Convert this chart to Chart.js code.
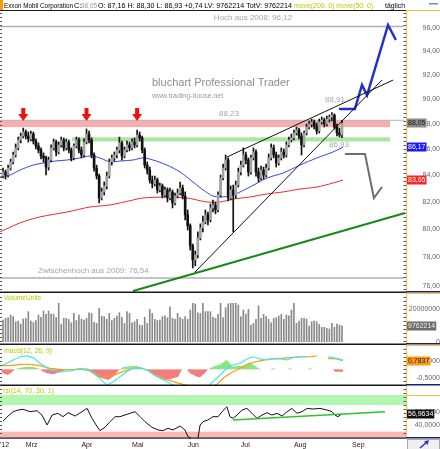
<!DOCTYPE html>
<html>
<head>
<meta charset="utf-8">
<script src="https://cdn.jsdelivr.net/npm/chart.js@4.4.1/dist/chart.umd.min.js"></script>
<style>
  body { margin: 0; background: #fff; }
  #wrap { position: relative; width: 440px; height: 449px; overflow: hidden; background: #fff; }
  canvas { position: absolute; left: 0; }
</style>
</head>
<body>
<div id="wrap">
  <canvas id="price" width="440" height="281" style="top:11px"></canvas>
  <canvas id="vol" width="440" height="51" style="top:293px"></canvas>
  <canvas id="macd" width="440" height="40" style="top:345px"></canvas>
  <canvas id="rsi" width="440" height="63" style="top:386px"></canvas>
  <canvas id="over" width="440" height="449" style="top:0;pointer-events:none"></canvas>
</div>
<script>
// Exxon Mobil, daily candles, Feb 16 2012 .. Aug 28 2012 (x = trading day index)
const opens = [83.95,84.26,84.03,84.56,85.03,85.57,86.12,86.74,87.05,87.37,
  87.05,86.82,87.21,86.66,86.27,85.96,85.49,85.34,84.64,85.18,
  86.12,86.58,85.80,86.35,86.74,86.12,86.58,85.96,85.34,86.27,
  86.74,85.96,85.57,86.58,87.21,86.74,85.57,84.56,83.95,82.30,
  82.75,83.20,83.95,85.03,85.34,85.57,85.96,86.51,85.49,85.96,
  86.35,86.12,86.58,86.35,87.13,86.90,85.96,84.79,84.41,83.65,
  83.35,83.65,82.90,83.20,82.52,82.90,82.30,82.75,81.93,82.45,
  82.67,83.05,82.45,81.05,80.25,78.80,77.81,78.16,79.37,80.10,
  80.53,81.05,80.68,81.56,81.78,81.41,82.52,83.80,84.56,85.18,
  82.30,82.90,82.52,83.27,84.26,84.79,85.57,85.18,84.26,85.34,
  85.80,84.26,83.80,84.41,84.03,84.56,85.34,86.12,85.57,84.95,
  85.34,85.80,85.57,86.35,86.74,86.90,87.29,87.53,87.05,86.35,
  87.29,87.76,88.00,88.16,87.84,87.45,88.16,88.32,88.00,88.40,
  88.56,88.72,87.76,87.29,87.16];
const highs = [84.56,84.41,84.79,85.26,85.80,86.43,86.97,87.29,87.68,87.53,
  87.37,87.45,87.37,86.82,86.51,86.12,85.73,85.49,85.41,86.35,
  86.82,86.74,86.58,86.97,86.90,86.82,86.74,86.12,86.43,86.97,
  86.90,86.19,86.82,87.61,87.45,86.90,85.73,84.79,84.10,83.05,
  83.50,84.26,85.26,85.57,85.80,86.19,86.97,86.66,86.19,86.66,
  86.58,86.82,86.90,87.53,87.37,87.05,86.12,85.03,84.64,83.95,
  83.95,83.80,83.42,83.35,83.12,83.05,83.05,82.90,82.67,82.97,
  83.50,83.27,82.75,81.41,80.39,78.94,78.44,79.81,80.39,80.97,
  81.41,81.26,81.85,82.15,82.00,82.75,84.03,84.87,85.57,85.34,
  83.20,83.27,83.57,84.56,85.10,86.12,85.80,85.34,85.57,86.12,
  85.96,84.56,84.72,84.64,84.87,85.65,86.43,86.35,85.80,85.57,
  86.12,86.04,86.58,86.97,87.21,87.53,87.76,87.68,87.29,87.45,
  88.00,88.24,88.40,88.32,88.08,88.40,88.56,88.48,88.64,88.72,
  88.91,88.81,88.00,87.68,88.30];
const lows = [83.80,83.72,83.88,84.41,84.87,85.41,85.96,86.51,86.90,86.82,
  86.58,86.66,86.43,86.04,85.73,85.26,85.03,84.03,84.41,85.03,
  85.96,85.49,85.65,86.19,85.88,85.96,85.73,85.10,85.18,86.12,
  85.73,85.34,85.41,86.43,86.51,85.34,84.33,83.72,81.93,82.15,
  82.52,82.97,83.80,84.79,85.10,85.34,85.73,85.18,85.34,85.80,
  85.88,85.96,86.12,86.19,86.66,85.73,84.56,84.10,83.42,83.05,
  83.20,82.67,82.75,82.30,82.37,82.00,82.15,81.56,81.78,82.30,
  82.52,82.22,80.68,79.95,78.51,77.24,77.39,77.95,79.23,79.81,
  80.39,80.32,80.53,81.26,81.12,81.26,82.37,83.65,84.41,82.08,
  82.15,79.81,82.30,83.12,84.03,84.64,84.87,83.95,84.10,85.18,
  83.95,83.50,83.65,83.72,83.88,84.41,85.18,85.34,84.64,84.79,
  85.18,85.34,85.41,86.19,86.58,86.74,87.13,86.82,85.57,86.19,
  87.13,87.61,87.76,87.61,87.21,87.29,88.00,87.76,87.84,88.16,
  88.24,87.61,87.05,86.97,86.93];
const closes = [84.26,84.03,84.56,85.03,85.57,86.12,86.74,87.05,87.37,87.05,
  86.82,87.21,86.66,86.27,85.96,85.49,85.34,84.64,85.18,86.12,
  86.58,85.80,86.35,86.74,86.12,86.58,85.96,85.34,86.27,86.74,
  85.96,85.57,86.58,87.21,86.74,85.57,84.56,83.95,82.30,82.75,
  83.20,83.95,85.03,85.34,85.57,85.96,86.51,85.49,85.96,86.35,
  86.12,86.58,86.35,87.13,86.90,85.96,84.79,84.41,83.65,83.35,
  83.65,82.90,83.20,82.52,82.90,82.30,82.75,81.93,82.45,82.67,
  83.05,82.45,81.05,80.25,78.80,77.81,78.16,79.37,80.10,80.53,
  81.05,80.68,81.56,81.78,81.41,82.52,83.80,84.56,85.18,82.30,
  82.90,82.52,83.27,84.26,84.79,85.57,85.18,84.26,85.34,85.80,
  84.26,83.80,84.41,84.03,84.56,85.34,86.12,85.57,84.95,85.34,
  85.80,85.57,86.35,86.74,86.90,87.29,87.53,87.05,86.35,87.29,
  87.76,88.00,88.16,87.84,87.45,88.16,88.32,88.00,88.40,88.56,
  88.72,87.76,87.29,87.13,88.05];
// volume in millions of shares
const volumes = [13.3,14.3,14.7,16.3,15.3,12.2,12.6,10.8,13.9,14.3,
  18.4,12.6,11.8,12.9,16.3,14.9,18.8,16.7,18.8,16.9,
  16.9,14.7,23.5,10.8,14.3,14.3,13.7,11.6,17.3,12.9,
  16.3,13.7,13.3,14.3,17.7,17.3,11.8,11.2,20.4,15.7,
  15.3,13.7,17.3,12.9,14.3,15.7,17.7,14.9,11.2,18.4,
  17.3,11.6,12.2,13.7,10.2,9.8,14.9,11.2,19.8,17.3,
  13.7,12.9,13.3,15.3,15.9,14.7,21.4,14.3,13.7,17.3,
  14.7,13.7,15.3,13.7,19.4,23.5,23.1,17.7,17.3,23.5,
  18.4,18.4,18.4,14.9,14.3,16.7,23.5,14.7,20.8,23.1,
  23.5,23.5,23.5,22.4,15.3,19.4,16.9,19.8,10.2,11.2,
  13.7,22.0,14.3,16.7,15.3,13.7,11.6,14.3,14.7,15.7,
  16.7,13.7,16.3,15.9,19.4,23.5,11.2,12.6,14.3,14.3,
  13.9,9.6,12.2,12.6,12.2,10.6,8.8,8.8,8.2,7.8,
  11.2,8.8,10.8,10.2,9.762214];

// moving averages and drawn lines, [day index, price]
const ma50 = [[-1.2,83.88],[2.8,84.03],[6.7,84.41],[11.9,84.79],[15.8,84.95],[20.6,85.10],[25.3,85.18],[30.4,85.34],
  [34.4,85.49],[38.3,85.34],[42.3,85.03],[46.2,85.10],[51.4,85.18],[55.3,85.34],[59.3,85.18],[64.8,84.79],[70.0,84.26],
  [75.1,83.50],[79.1,82.90],[83.0,82.45],[85.8,82.37],[90.9,82.52],[97.6,83.12],[104.3,83.80],[110.7,84.18],
  [117.4,84.79],[124.1,85.34],[130.4,85.80],[134.4,86.17]];
const ma200 = [[-1.2,79.81],[6.7,80.46],[14.6,80.90],[25.3,81.26],[34.4,81.63],[42.3,81.78],[51.4,82.15],[55.3,82.30],
  [64.8,82.37],[72.7,82.30],[80.6,82.00],[85.8,82.00],[90.9,82.22],[97.6,82.37],[104.3,82.60],[110.7,82.75],
  [117.4,82.97],[124.1,83.12],[130.4,83.42],[134.4,83.65]];
const upperWedge = [[88.5,85.41],[154.2,91.58]];
const lowerWedge = [[75.9,76.96],[149.8,91.58]];
const supportTrend = [[51.4,75.65],[158.9,81.19]];
const bullPath = [[132.8,89.21],[139.1,89.21],[141.9,91.18],[143.9,90.32],[152.2,96.26],[155.3,94.96]];
const bearPath = [[135.2,85.64],[143.1,85.64],[146.6,82.30],[149.8,83.12]];
const high2008 = 96.12, high2009 = 76.54, lastHighLine = 88.30;
const resistanceZone = [87.76, 88.28];
const supportZone = [86.62, 86.95];
const zoneStart = [-1.2, 27.3], zoneEnd = 153;
const arrowDays = [8, 33, 53];
const priceTicks = [76,78,80,82,84,86,88,90,92,94,96];

// MACD(12,26,9): [day index, value]
const macdLine = [[-1.2,0.2],[1.6,0.36],[4,0.56],[6.7,0.75],[9.5,0.8],[11.9,0.7],[14.6,0.36],[18.6,-0.04],[22.5,-0.16],
  [26.5,-0.1],[30.4,0.02],[33.2,0.02],[35.6,-0.16],[38.3,-0.54],[41.1,-0.95],[43.5,-0.74],[46.2,-0.44],[49,-0.14],
  [51.4,0.06],[54.2,0.08],[56.9,-0.04],[60.9,-0.44],[64.8,-0.74],[67.2,-0.95],[73.9,-1.3],[79.8,-1.2],[83,-0.74],
  [85.8,-0.34],[88.5,0.06],[90.9,0.26],[93.7,0.36],[96.4,0.62],[98.8,0.75],[101.6,0.62],[104.3,0.56],[106.7,0.62],
  [109.5,0.62],[112.3,0.56],[114.6,0.7],[117.4,0.75],[120.2,0.75],[124,null],[128.5,0.75],[130.4,0.7],[134.4,0.56]];
const signalLine = [[-1.2,0.22],[2.8,0.22],[6.7,0.3],[10.7,0.3],[14.6,0.22],[18.6,0.06],[22.5,0],[26.5,-0.04],[30.4,0.02],
  [34.4,-0.1],[37.2,-0.34],[39.5,-0.44],[43.5,-0.38],[47.4,-0.14],[51.4,0.06],[55.3,0.06],[59.3,-0.24],[63.2,-0.54],
  [67.2,-0.74],[71.1,-0.9],[77.9,-1.15],[81.8,-1.1],[84.6,-0.9],[87,-0.54],[89.7,-0.24],[92.5,-0.04],[94.9,0.16],
  [97.6,0.36],[101.6,0.5],[105.5,0.62],[109.5,0.66],[113.4,0.7],[117.4,0.74],[121.3,0.75],[124.1,0.8],[126,null],
  [128.5,0.66],[132,0.62],[134.4,0.5]];
const macdHist = [[-1.2,0],[0,-0.24],[2,-0.34],[3.6,-0.14],[4.7,0],[6.7,0.1],[9.5,0.16],[11.9,0.14],[13.8,0.06],[14.6,0],
  [15.4,-0.1],[17.4,-0.24],[19.8,-0.3],[22.5,-0.18],[24.5,-0.04],[26.5,0],[30.4,-0.04],[32.8,0],[34.4,-0.14],[37.2,-0.44],
  [39.5,-0.54],[41.5,-0.64],[43.5,-0.44],[45.5,-0.1],[46.2,0],[47.4,0.14],[50.2,0.18],[53,0.2],[55.3,0.06],[56.1,0],
  [57.3,-0.1],[59.3,-0.34],[62.1,-0.54],[64.8,-0.64],[67.2,-0.54],[69.2,-0.44],[70.8,0],[72.7,0],[73.9,-0.24],
  [76.7,-0.44],[77.9,-0.48],[79.8,-0.24],[81,0],[83,0.16],[85.8,0.3],[88.5,0.56],[89.7,0.36],[90.9,0.16],[92.9,0.2],
  [94.9,0.22],[97.6,0.42],[99.6,0.22],[100.8,0.06],[102.4,0],[105.5,0],[106.7,0.06],[108.3,0],[112.3,0],[113.4,0.06],
  [114.6,0],[120.2,0],[121.3,0.06],[122.5,0],[130.4,0],[131.2,-0.14],[134.4,-0.14]];
const macdTicks = [0.5, -0.5];

// RSI(14): [day index, value]
const rsiLine = [[0,46],[2,53.5],[4,60],[5.9,62.5],[7.9,63.6],[10.7,60],[13.4,61.5],[15.4,55],[17.4,40],[19.4,55],
  [21.7,57.6],[23.7,52.5],[25.7,58.5],[28.5,53.5],[31.2,60],[33.2,65],[35.2,50],[37.2,37.5],[38.3,31.5],[40.3,36.5],
  [42.3,45],[44.3,52.5],[46.2,52.5],[48.2,55],[50.2,57.6],[52.2,60],[54.2,52.5],[56.1,45],[58.9,36.5],[61.3,32.5],
  [63.2,31.5],[65.2,35],[67.2,32.5],[70,38.5],[71.9,32.5],[73.1,22.5],[75.1,19],[77.1,20.5],[77.9,40],[79.1,45],
  [81,47.5],[83,52.5],[85,52.5],[86.6,60],[88.5,67.5],[89.7,52.5],[90.9,50],[92.5,55],[94.5,62.5],[96.4,65],
  [98.4,57.6],[100.4,50],[102.4,55],[104.3,58.5],[106.3,55],[108.3,57.5],[110.3,53.5],[112.3,60],[114.2,65],
  [116.2,57.6],[118.2,60],[120.2,65],[122.5,64],[125.3,65],[128.1,62.5],[130,60],[131.2,55],[132.4,52.5],[134,56.9634]];
const rsiTrend = [[90.9,47.5],[151,60]];
const rsiTicks = [60, 40];
const volTicks = [0, 20];

const monthLabels = ["'12", "Mrz", "Apr", "Mai", "Jun", "Jul", "Aug", "Sep"];
const monthDays = [-1.2, 9, 31, 51, 73, 94, 115, 138];

const FONT = '"Liberation Sans", Arial, sans-serif';
const X_MIN = -1.2, X_MAX = 159.3;

function pts(arr) { return arr.map(p => ({x: p[0], y: p[1]})); }
function line(arr, color, width, order, extra) {
  return Object.assign({type: 'line', data: pts(arr), borderColor: color, borderWidth: width,
    pointRadius: 0, fill: false, tension: 0, spanGaps: false, order: order}, extra || {});
}
function xAxis(show) {
  return {
    type: 'linear', min: X_MIN, max: X_MAX, offset: false, display: show,
    grid: {display: false, drawTicks: false}, border: {display: false},
    afterBuildTicks: s => { s.ticks = monthDays.map(v => ({value: v})); },
    afterFit: s => { s.height = show ? 11 : 0; s.paddingLeft = 0; s.paddingRight = 0; },
    ticks: {autoSkip: false, maxRotation: 0, align: 'start', padding: 3, color: '#222',
      font: {family: FONT, size: 7}, callback: (v, k) => monthLabels[k]}
  };
}
function yAxis(type, min, max, ticks, pad, fmt) {
  return {
    type: type, position: 'right', min: min, max: max, bounds: 'data',
    grid: {display: false, drawTicks: false}, border: {display: false},
    afterFit: s => { s.width = 34; s.paddingTop = 0; s.paddingBottom = 0; },
    afterBuildTicks: s => { s.ticks = ticks.map(v => ({value: v})); },
    ticks: {autoSkip: false, crossAlign: 'far', padding: pad, color: '#666',
      font: {family: FONT, size: 7}, callback: fmt}
  };
}
function valueBox(chart, value, text, bg, fg) {
  const ctx = chart.ctx, y = chart.scales.y.getPixelForValue(value);
  ctx.save();
  ctx.font = '7px ' + FONT;
  const w = ctx.measureText(text).width + 2;
  ctx.fillStyle = bg;
  ctx.fillRect(407, Math.round(y) - 4.5, w, 9);
  ctx.fillStyle = fg;
  ctx.textBaseline = 'middle';
  ctx.fillText(text, 408, Math.round(y));
  ctx.restore();
}
function hBand(chart, lo, hi, x0, x1, color) {
  const {ctx, scales: {x, y}} = chart;
  const px0 = x.getPixelForValue(x0), px1 = x.getPixelForValue(x1);
  const py0 = y.getPixelForValue(hi), py1 = y.getPixelForValue(lo);
  ctx.fillStyle = color;
  ctx.fillRect(px0, py0, px1 - px0, py1 - py0);
}
const baseOpts = {responsive: false, animation: false, events: [],
  plugins: {legend: {display: false}, tooltip: {enabled: false}}};

// ---------- price panel ----------
const wickData = closes.map((c, i) => ({x: i, y: [lows[i], highs[i]]}));
const bodyData = closes.map((c, i) => ({x: i, y: [opens[i], c]}));
const bodyColors = closes.map((c, i) => c >= opens[i] ? '#a4a4a4' : '#111');

const priceDecor = {
  id: 'priceDecor',
  beforeDatasetsDraw(chart) {
    const ctx = chart.ctx;
    ctx.save();
    hBand(chart, resistanceZone[0], resistanceZone[1], zoneStart[0], zoneEnd, 'rgba(248,160,160,0.85)');
    hBand(chart, supportZone[0], supportZone[1], zoneStart[1], zoneEnd, 'rgba(160,228,150,0.9)');
    ctx.restore();
  },
  afterDatasetsDraw(chart) {
    const {ctx, scales: {x, y}} = chart;
    ctx.save();
    ctx.fillStyle = '#ee1111';
    const tip = y.getPixelForValue(88.24), top = y.getPixelForValue(89.29);
    arrowDays.forEach(d => {
      const cx = x.getPixelForValue(d);
      ctx.fillRect(cx - 2, top, 4, (tip - top) - 6);
      ctx.beginPath();
      ctx.moveTo(cx - 5, tip - 7);
      ctx.lineTo(cx + 5, tip - 7);
      ctx.lineTo(cx, tip);
      ctx.closePath();
      ctx.fill();
    });
    ctx.restore();
  },
  afterDraw(chart) {
    valueBox(chart, closes[closes.length - 1], '88,05', '#8c8c8c', '#1a1a1a');
    valueBox(chart, ma50[ma50.length - 1][1], '86,17', '#1a1aff', '#fff');
    valueBox(chart, ma200[ma200.length - 1][1], '83,65', '#ff2222', '#fff');
  }
};

new Chart(document.getElementById('price'), {
  type: 'bar',
  data: {datasets: [
    line(upperWedge, '#111', 1, 0),
    line(lowerWedge, '#111', 1, 0),
    line(supportTrend, '#168a16', 2, 0),
    line(bullPath, '#2233cc', 2.5, 0),
    line(bearPath, '#6e6e6e', 2, 0),
    {type: 'bar', data: bodyData, backgroundColor: bodyColors, barThickness: 2, grouped: false, borderWidth: 0, order: 1},
    {type: 'bar', data: wickData, backgroundColor: '#111', barThickness: 1, grouped: false, borderWidth: 0, order: 2},
    line(ma50, '#3344ee', 1, 3, {tension: 0.3}),
    line(ma200, '#ee2a2a', 1, 3, {tension: 0.3}),
    line([[X_MIN, high2008], [158.6, high2008]], '#b0b0b0', 1.5, 4),
    line([[X_MIN, high2009], [158.6, high2009]], '#b0b0b0', 1.5, 4),
    line([[X_MIN, lastHighLine], [158.6, lastHighLine]], '#b4b4b4', 1, 4)
  ]},
  options: Object.assign({}, baseOpts, {
    scales: {
      x: xAxis(false),
      y: yAxis('logarithmic', 75.58, 97.49, priceTicks, 14, v => Number(v).toFixed(2).replace('.', ','))
    }
  }),
  plugins: [priceDecor]
});

// ---------- volume panel ----------
new Chart(document.getElementById('vol'), {
  type: 'bar',
  data: {datasets: [
    {data: volumes.map((v, i) => ({x: i, y: v})), backgroundColor: '#8a8a8a', barThickness: 1, borderWidth: 0}
  ]},
  options: Object.assign({}, baseOpts, {
    scales: {
      x: xAxis(false),
      y: yAxis('linear', -1.41, 29.8, volTicks, 0, v => String(Math.round(v * 1e6)))
    }
  }),
  plugins: [{id: 'volBox', afterDraw(chart) {
    valueBox(chart, volumes[volumes.length - 1], String(Math.round(volumes[volumes.length - 1] * 1e6)), '#6c6c6c', '#f2f2f2');
  }}]
});

// ---------- MACD panel ----------
new Chart(document.getElementById('macd'), {
  type: 'line',
  data: {datasets: [
    line(macdLine, '#3ceaf0', 1.2, 0),
    line(signalLine, '#ff9a1a', 1.2, 1),
    line(macdHist, 'rgba(0,0,0,0)', 0, 2, {fill: {target: {value: 0}, above: '#84e884', below: '#f47c7c'}})
  ]},
  options: Object.assign({}, baseOpts, {
    scales: {
      x: xAxis(false),
      y: yAxis('linear', -0.94, 1.455, macdTicks, 8, v => Number(v).toFixed(4).replace('.', ','))
    }
  }),
  plugins: [{id: 'macdBox', afterDraw(chart) {
    valueBox(chart, 0.5, '0,7837', '#ff9a1a', '#222');
  }}]
});

// ---------- RSI panel ----------
new Chart(document.getElementById('rsi'), {
  type: 'line',
  data: {datasets: [
    line(rsiTrend, '#2ec42e', 1.5, 0),
    line(rsiLine, '#111', 1, 1)
  ]},
  options: Object.assign({}, baseOpts, {
    layout: {padding: {top: 9}},
    scales: {
      x: xAxis(true),
      y: yAxis('linear', 20.45, 85.1, rsiTicks, 6, v => Number(v).toFixed(4).replace('.', ','))
    }
  }),
  plugins: [{id: 'rsiZones',
    beforeDatasetsDraw(chart) {
      const ctx = chart.ctx;
      ctx.save();
      hBand(chart, 70, 85.1, X_MIN, X_MAX, '#b2f6b2');
      hBand(chart, 20.45, 30, X_MIN, X_MAX, '#f8b8b8');
      ctx.restore();
    },
    afterDraw(chart) {
      valueBox(chart, rsiLine[rsiLine.length - 1][1], '56,9634', '#111', '#fff');
    }
  }]
});

// ---------- frame, header and labels ----------
const ov = document.getElementById('over').getContext('2d');
function txt(s, x, y, color, size, maxW, align) {
  ov.font = size + 'px ' + FONT;
  ov.fillStyle = color;
  ov.textAlign = align || 'left';
  ov.textBaseline = 'middle';
  if (maxW) ov.fillText(s, x, y, maxW); else ov.fillText(s, x, y);
}
ov.fillStyle = '#ff9900';
ov.fillRect(0, 0, 3, 10);
txt('Exxon Mobil Corporation', 4, 5.5, '#000', 7.5, 69);
txt('C:', 74, 5.5, '#000', 7.5);
txt('88,05', 81, 5.5, '#9a9a9a', 7.5, 16);
txt('O: 87,16 H: 88,30 L: 86,93 +0,74 LV: 9762214 TotV: 9762214', 98, 5.5, '#000', 7.5, 194);
txt('move(200, 0) move(50, 0)', 294, 5.5, '#c4c400', 7.5, 79);
txt('täglich', 385, 5.5, '#000', 7.5, 20);
ov.fillStyle = '#8a8a8a';
ov.fillRect(429, 3, 9, 1.5);

txt('Hoch aus 2008: 96,12', 253, 18, '#a6a6a6', 8, 0, 'center');
txt('bluchart Professional Trader', 152, 83, '#8e8e8e', 11, 144);
txt('www.trading-house.net', 152, 96, '#9a9a9a', 7, 78);
txt('88,23', 229, 114, '#a6a6a6', 8, 0, 'center');
txt('88,91', 325, 100, '#a6a6a6', 8);
txt('86,93', 329, 145, '#a6a6a6', 8);
txt('Zwischenhoch aus 2009: 76,54', 38, 271, '#a6a6a6', 8);
txt('VolumeUnits', 4, 298, '#c4c400', 7, 37);
txt('macd(12, 26, 9)', 4, 351, '#c4c400', 7, 48);
txt('rsi(14, 70, 30, 1)', 3, 391, '#c4c400', 7, 51);

// panel separators
ov.fillStyle = '#1a1a1a';
[[10, 1], [291.5, 1.5], [343.5, 1.5], [384.5, 1.5], [437.5, 1.2]].forEach(s => ov.fillRect(0, s[0], 406, s[1]));
// edge tick dashes
ov.fillStyle = '#555';
for (let y = 13; y < 437; y += 4) {
  if (Math.abs(y - 292) < 2 || Math.abs(y - 344) < 2 || Math.abs(y - 385) < 2) continue;
  ov.fillRect(0, y, 2, 1);
  ov.fillRect(403.5, y, 2.5, 1);
}
// right axis frames
ov.fillStyle = '#f0c040';
ov.fillRect(406, 10, 1, 428);
[10, 293, 345, 395].forEach(y => ov.fillRect(406, y, 34, 1));
ov.fillStyle = '#1c1c70';
[291, 343, 384, 437].forEach(y => ov.fillRect(406, y, 34, 1.5));
// bottom-right button
ov.fillStyle = '#efefef';
ov.fillRect(407, 439, 33, 10);
ov.strokeStyle = '#aaa';
ov.lineWidth = 1;
ov.strokeRect(407.5, 439.5, 32, 10);
ov.strokeStyle = '#2233cc';
ov.lineWidth = 1.5;
ov.beginPath();
ov.moveTo(420, 448); ov.lineTo(427, 442);
ov.stroke();
ov.fillStyle = '#2233cc';
ov.beginPath();
ov.moveTo(429, 440); ov.lineTo(424, 441.5); ov.lineTo(427.5, 445); ov.closePath();
ov.fill();
</script>
</body>
</html>
